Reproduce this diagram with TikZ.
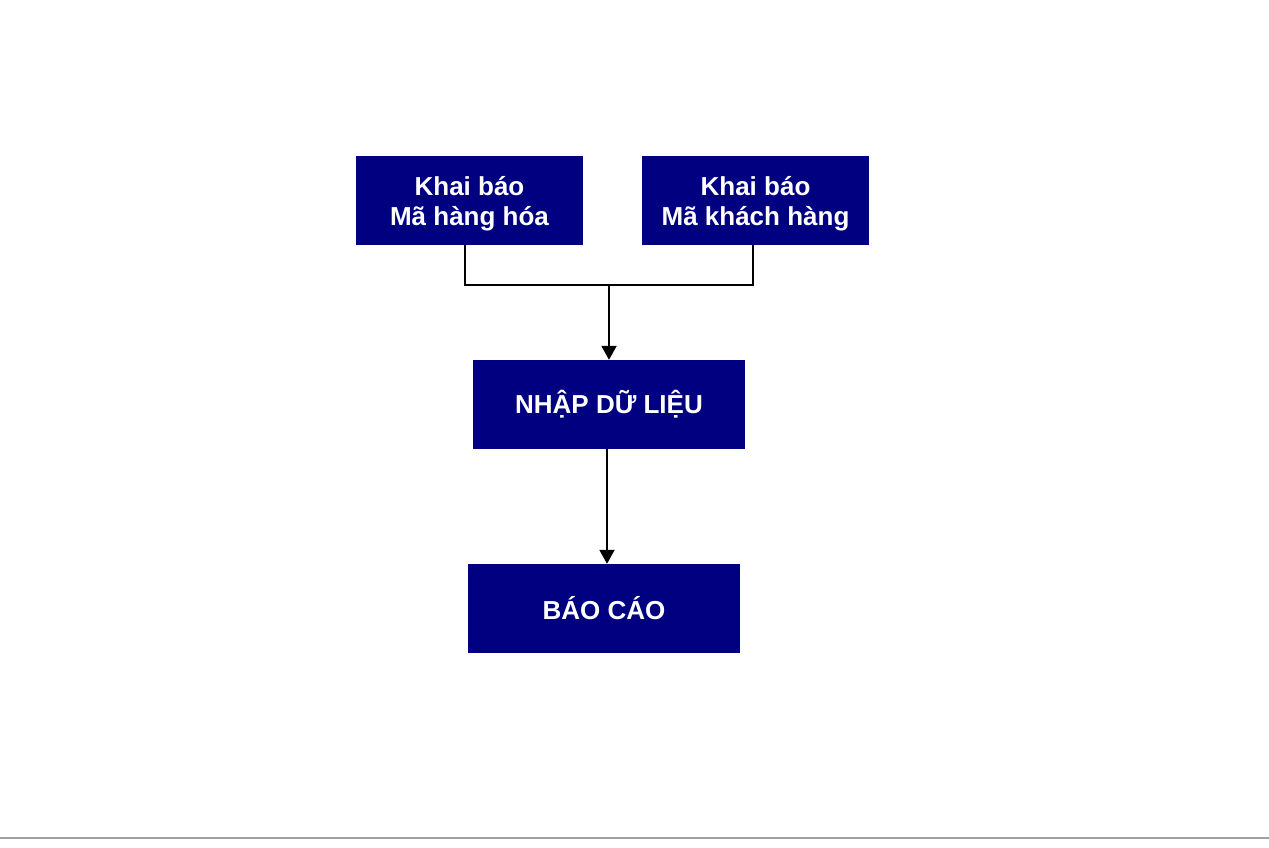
\documentclass[tikz,border=0pt]{standalone}
\usepackage{fontspec}
\setmainfont{Liberation Sans}
\usetikzlibrary{arrows.meta,calc}
\definecolor{boxblue}{HTML}{000080}
\definecolor{rulegray}{HTML}{A0A0A0}
\newcommand{\lowstrut}{\rule{0pt}{25.5pt}}
\tikzset{
  stepbox/.style={fill=boxblue, text=white, minimum width=227pt, minimum height=89pt,
    inner sep=0pt, align=center, font=\fontsize{26}{30}\selectfont\bfseries},
  widebox/.style={stepbox, minimum width=272pt},
  link/.style={line width=2pt, black},
  flow/.style={link, -{Triangle[width=15pt,length=14pt]}}
}
\begin{document}
\begin{tikzpicture}[x=1pt,y=-1pt]
    \useasboundingbox (0,0) rectangle (1269,847);
    \node[stepbox] (goods) at (469.5,200.5) {\lowstrut Khai báo\\Mã hàng hóa};
    \node[stepbox] (clients) at (755.5,200.5) {\lowstrut Khai báo\\Mã khách hàng};
    \node[widebox] (input) at (609,404.5) {NHẬP DỮ LIỆU};
    \node[widebox] (report) at (604,608.5) {BÁO CÁO};
    \coordinate (join) at (609,284.5);
    \draw[link] ([xshift=-4.5pt]goods.south) |- (join) -| ([xshift=-2.5pt]clients.south);
    \draw[flow] (join) -- (input.north);
    \draw[flow] ([xshift=-2pt]input.south) -- ([xshift=3pt]report.north);
    \draw[rulegray, line width=2pt] (0,837.5) -- (1269,837.5);
\end{tikzpicture}
\end{document}
